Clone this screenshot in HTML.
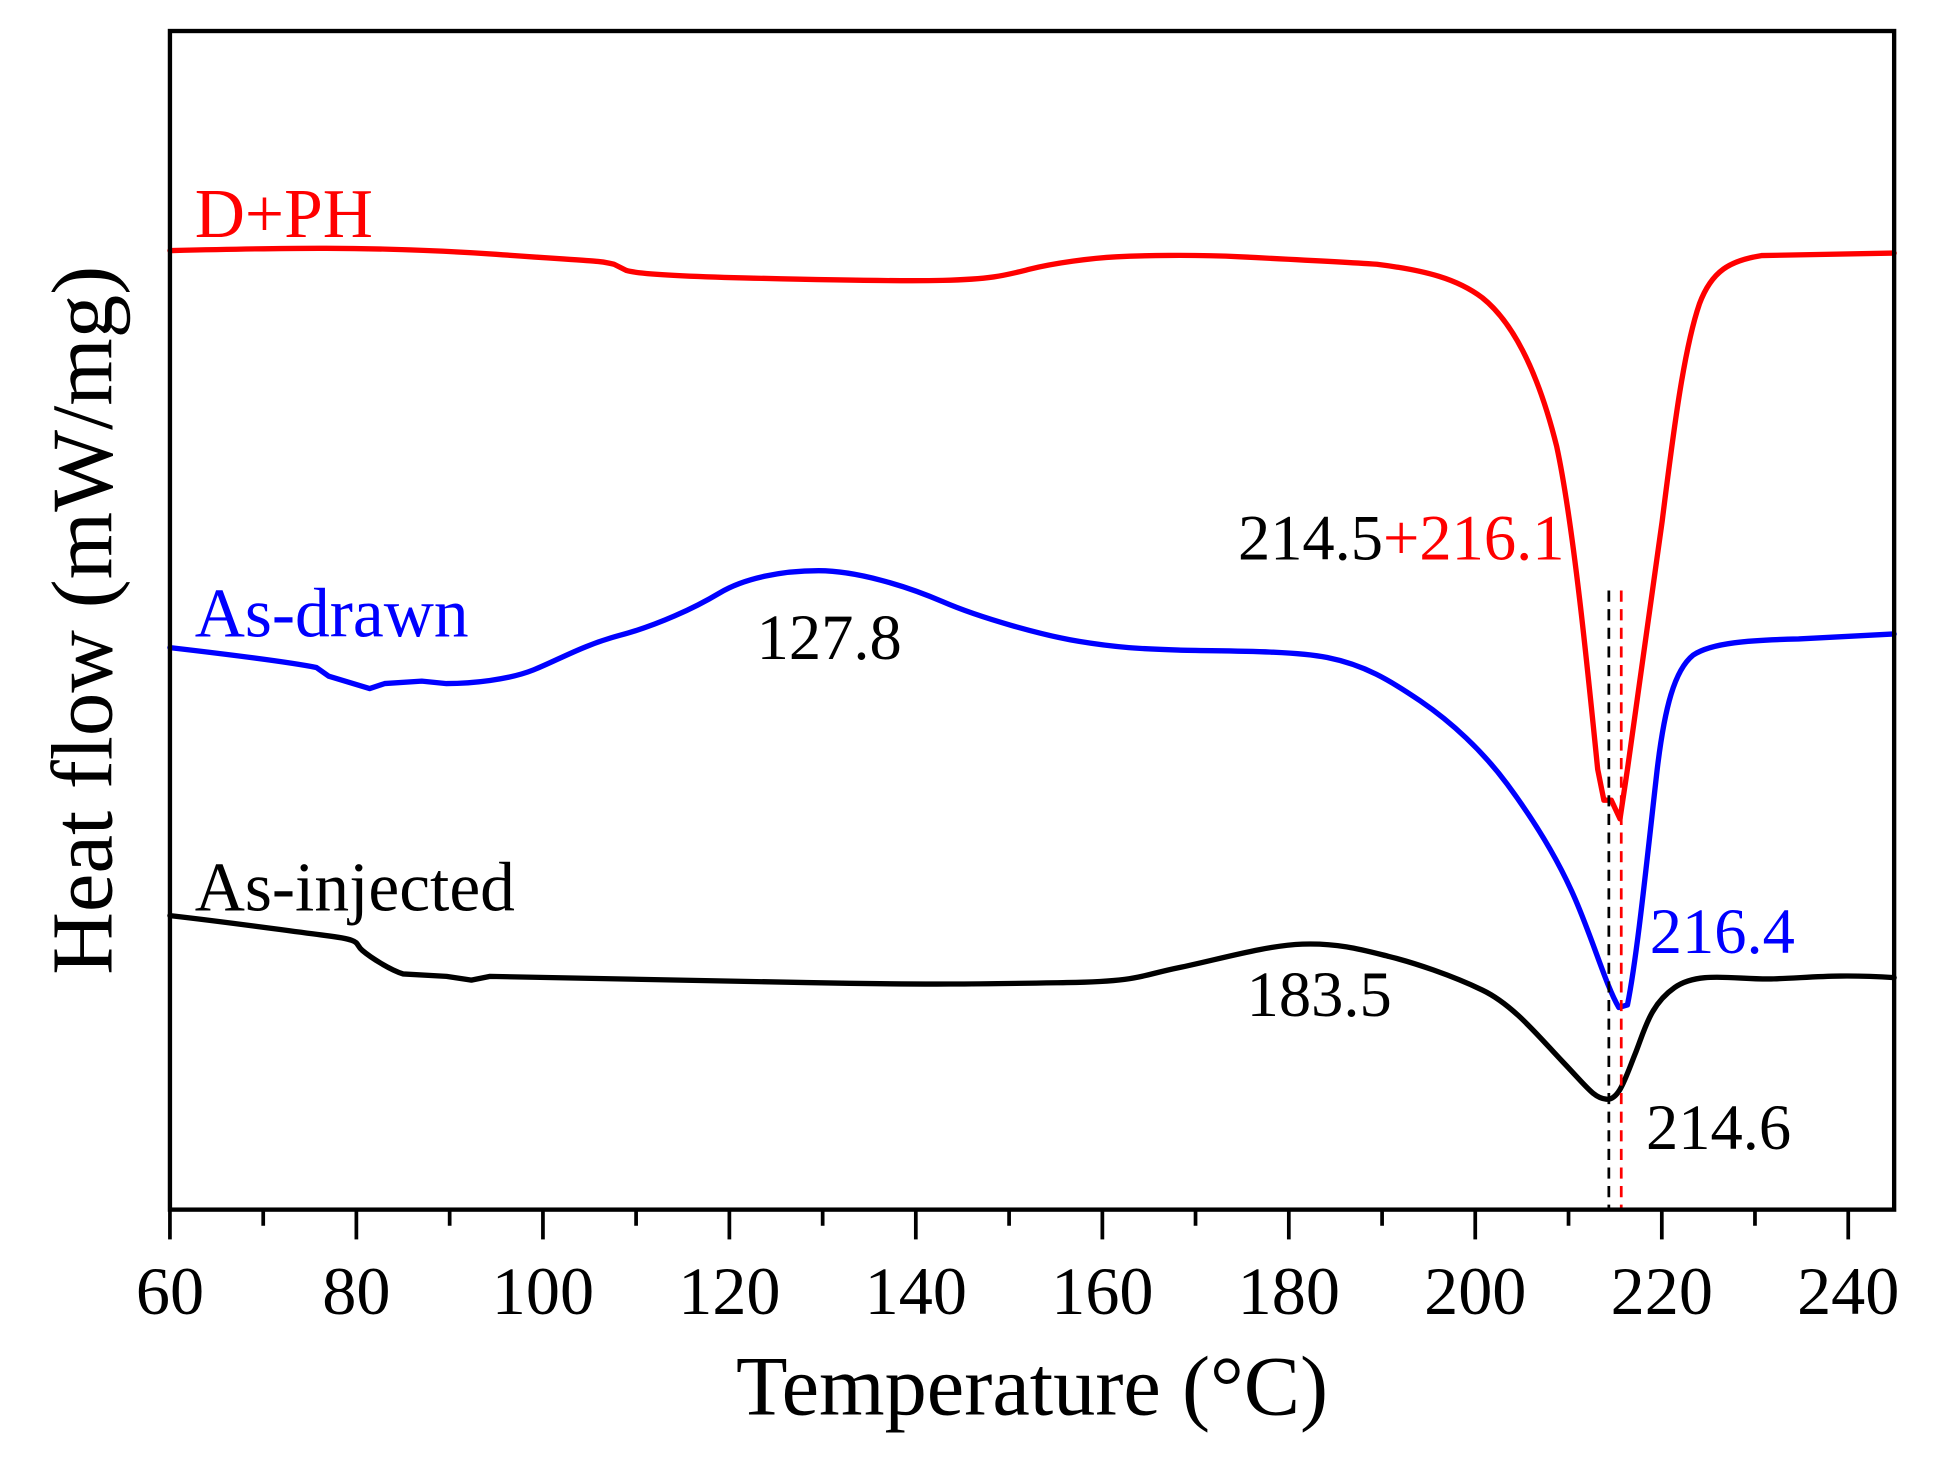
<!DOCTYPE html>
<html><head><meta charset="utf-8"><style>html,body{margin:0;padding:0;background:#fff}svg{display:block}</style></head>
<body>
<svg width="1945" height="1459" viewBox="0 0 1568 1176" preserveAspectRatio="none" xmlns="http://www.w3.org/2000/svg" font-family="'Liberation Serif', serif">
<rect width="1568" height="1176" fill="#fff"/>
<g fill="none" stroke-linejoin="round" stroke-linecap="round" stroke-width="4.3">
<path stroke="#ff0000" d="M137,202 C220,200 300,198 400,205 S480,210 495,213 L505,218 C515,221 560,223 600,224 S720,227 760,226 S810,222 830,217 S880,208 900,207 S960,205 1000,207 S1080,211 1110,213 C1150,218 1175,225 1195,240 C1220,260 1240,300 1255,360 C1268,420 1280,540 1288,620 L1293,645 L1299,645 L1306,660 L1312,620 C1320,560 1330,490 1340,420 C1350,340 1358,280 1370,245 C1380,218 1395,210 1420,206 L1527,204"/>
<path stroke="#0000ff" d="M137,522 C180,527 230,533 255,538 L265,545 L298,555 L310,551 L340,549 L360,551 C380,551 410,548 430,540 S470,520 500,512 S560,490 580,478 S630,460 660,460 S730,472 760,485 S840,512 870,517 S920,523 950,524 S1040,524 1070,530 S1120,548 1145,565 S1195,605 1215,632 S1255,690 1270,725 S1295,795 1305,812 L1312,810 C1320,770 1328,690 1336,620 C1342,570 1350,540 1365,528 C1380,518 1410,516 1450,515 L1527,511"/>
<path stroke="#000" d="M137,738 C190,744 230,750 262,754 S285,760 292,766 S315,782 325,785 L360,787 L380,790 L395,787 C450,788 550,790 650,792 S800,793 860,792 S920,786 950,780 S1020,762 1050,761 S1100,766 1120,771 S1170,786 1195,798 S1240,835 1260,856 S1285,885 1295,886 S1310,870 1318,850 S1330,810 1350,796 S1400,790 1430,789 S1480,785 1527,788"/>
</g>
<g stroke-width="2.2" stroke-dasharray="9,6">
<line x1="1297" y1="476" x2="1297" y2="975" stroke="#000"/>
<line x1="1307" y1="476" x2="1307" y2="975" stroke="#ff0000"/>
</g>
<rect x="137" y="25" width="1390" height="950" fill="none" stroke="#000" stroke-width="3.5"/>
<g stroke="#000" stroke-width="3">
<line x1="137" y1="975" x2="137" y2="999"/><line x1="212.2" y1="975" x2="212.2" y2="988"/>
<line x1="287.3" y1="975" x2="287.3" y2="999"/><line x1="362.5" y1="975" x2="362.5" y2="988"/>
<line x1="437.7" y1="975" x2="437.7" y2="999"/><line x1="512.8" y1="975" x2="512.8" y2="988"/>
<line x1="588" y1="975" x2="588" y2="999"/><line x1="663.2" y1="975" x2="663.2" y2="988"/>
<line x1="738.3" y1="975" x2="738.3" y2="999"/><line x1="813.5" y1="975" x2="813.5" y2="988"/>
<line x1="888.7" y1="975" x2="888.7" y2="999"/><line x1="963.8" y1="975" x2="963.8" y2="988"/>
<line x1="1039" y1="975" x2="1039" y2="999"/><line x1="1114.2" y1="975" x2="1114.2" y2="988"/>
<line x1="1189.3" y1="975" x2="1189.3" y2="999"/><line x1="1264.5" y1="975" x2="1264.5" y2="988"/>
<line x1="1339.7" y1="975" x2="1339.7" y2="999"/><line x1="1414.8" y1="975" x2="1414.8" y2="988"/>
<line x1="1490" y1="975" x2="1490" y2="999"/>
</g>
<g font-size="55" text-anchor="middle" fill="#000">
<text x="137" y="1059">60</text><text x="287.3" y="1059">80</text><text x="437.7" y="1059">100</text>
<text x="588" y="1059">120</text><text x="738.3" y="1059">140</text><text x="888.7" y="1059">160</text>
<text x="1039" y="1059">180</text><text x="1189.3" y="1059">200</text><text x="1339.7" y="1059">220</text>
<text x="1490" y="1059">240</text>
</g>
<text x="832" y="1140" font-size="68" text-anchor="middle">Temperature (°C)</text>
<text transform="translate(90,500) rotate(-90)" font-size="70" text-anchor="middle">Heat flow (mW/mg)</text>
<g font-size="56">
<text x="157" y="191" fill="#ff0000">D+PH</text>
<text x="157" y="513" fill="#0000ff">As-drawn</text>
<text x="157" y="734" fill="#000">As-injected</text>
</g>
<g font-size="52">
<text x="610" y="531" fill="#000">127.8</text>
<text x="998" y="451" fill="#000">214.5<tspan fill="#ff0000">+216.1</tspan></text>
<text x="1330" y="768" fill="#0000ff">216.4</text>
<text x="1005" y="819" fill="#000">183.5</text>
<text x="1327" y="926" fill="#000">214.6</text>
</g>
</svg>
</body></html>
